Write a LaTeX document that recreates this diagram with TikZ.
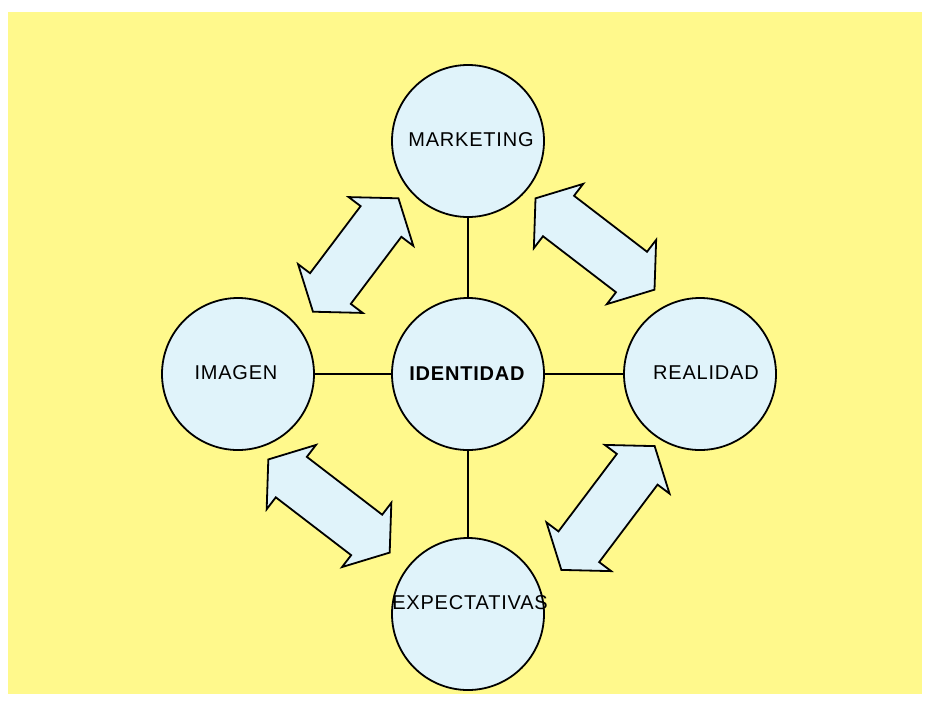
\documentclass[tikz,border=0pt]{standalone}
\usepackage{fontspec}
\setmainfont{Liberation Sans}
\newfontfamily\lblfont[LetterSpace=4]{Liberation Sans}
\definecolor{bgyellow}{RGB}{255,249,140}
\definecolor{circblue}{RGB}{224,243,250}
\tikzset{
  circ/.style={circle,draw=black,line width=1.8pt,fill=circblue,minimum size=152pt,inner sep=0pt},
  lbl/.style={inner sep=0pt,font=\lblfont\fontsize{20}{24}\selectfont,text=black},
  conn/.style={line width=1.8pt,black},
  pics/dblarrow/.style={code={
    \draw[line width=1.8pt,fill=circblue,line join=miter]
      (-#1/2,0) -- (-#1/2+29,40.5) -- (-#1/2+29,25.5) -- (#1/2-29,25.5) -- (#1/2-29,40.5)
      -- (#1/2,0) -- (#1/2-29,-40.5) -- (#1/2-29,-25.5) -- (-#1/2+29,-25.5) -- (-#1/2+29,-40.5) -- cycle;
  }}
}
\begin{document}
\begin{tikzpicture}[x=1pt,y=-1pt]
\useasboundingbox (0,0) rectangle (933,705);
\fill[white] (0,0) rectangle (933,705);
\fill[bgyellow] (8,12) rectangle (922,694);
\node[circ] (M) at (468,141) {};
\node[circ] (C) at (468,374) {};
\node[circ] (IMG) at (238,374) {};
\node[circ] (R) at (700,374) {};
\node[circ] (E) at (468,614) {};
\draw[conn] (M.south) -- (C.north);
\draw[conn] (C.south) -- (E.north);
\draw[conn] (IMG.east) -- (C.west);
\draw[conn] (C.east) -- (R.west);
% block double arrows
\pic[rotate=53] at (355.7,255) {dblarrow=142};
\pic[rotate=-37.5] at (595,244) {dblarrow=150};
\pic[rotate=-37.5] at (329,506) {dblarrow=153};
\pic[rotate=53] at (608,508) {dblarrow=155};
% labels
\node[lbl] (tM) at (471,140) {MARKETING};
\node[lbl] (tIMG) at (236,373) {IMAGEN};
\node[lbl] (tR) at (706,373) {REALIDAD};
\node[lbl,font=\lblfont\bfseries\fontsize{20}{24}\selectfont] (tC) at (467,374) {IDENTIDAD};
\node[lbl] (tE) at (470,603) {EXPECTATIVAS};
\end{tikzpicture}
\end{document}
